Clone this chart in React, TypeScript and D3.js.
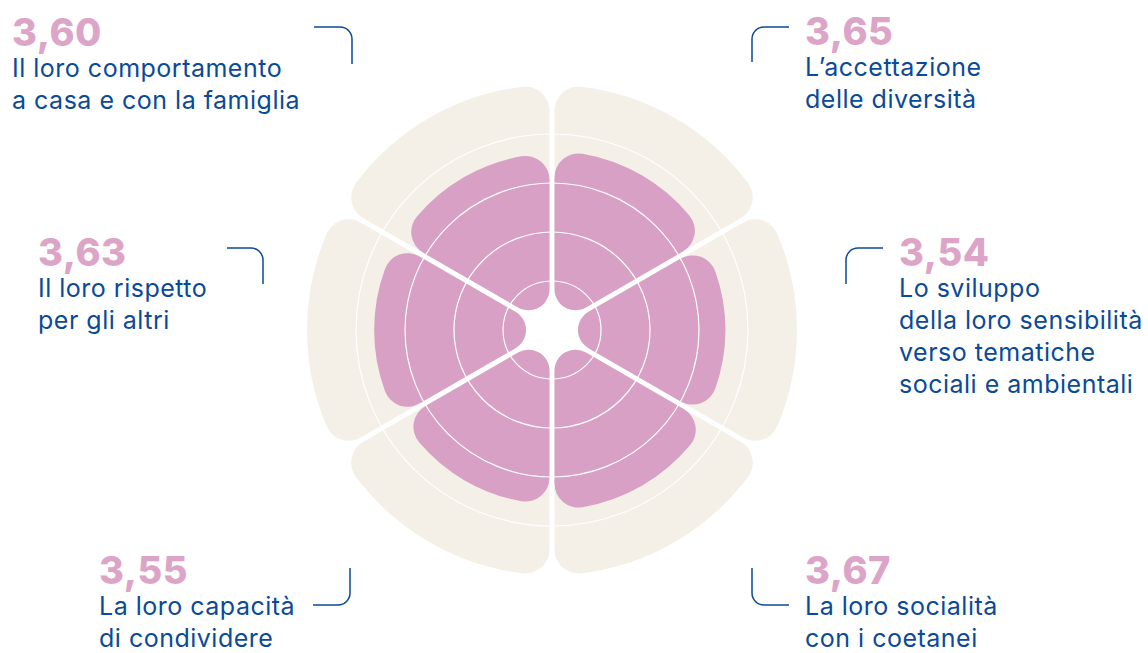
import React, { useEffect, useRef } from 'react';
import * as d3 from 'd3';

// sectors clockwise from 12 o'clock
const values = [3.65, 3.54, 3.67, 3.55, 3.63, 3.6];
const valueLabels = ['3,65', '3,54', '3,67', '3,55', '3,63', '3,60'];
const categories = [
  ["L\u2019accettazione", 'delle diversità'],
  ['Lo sviluppo', 'della loro sensibilità', 'verso tematiche', 'sociali e ambientali'],
  ['La loro socialità', 'con i coetanei'],
  ['La loro capacità', 'di condividere'],
  ['Il loro rispetto', 'per gli altri'],
  ['Il loro comportamento', 'a casa e con la famiglia'],
];
const gridTicks = [1, 2, 3, 4];
const maxValue = 5;

// label placement (x of text, baseline of the number, connector path)
const labelLayout = [
  { x: 805, y: 45, path: 'M752,62 V39 A12,12 0 0 1 764,27 H789' },
  { x: 899, y: 266, path: 'M846,284 V260 A12,12 0 0 1 858,248 H883' },
  { x: 805, y: 584, path: 'M752,568 V593 A12,12 0 0 0 764,605 H789' },
  { x: 99, y: 584, path: 'M350,568 V593 A12,12 0 0 1 338,605 H313' },
  { x: 38, y: 266, path: 'M227,248 H251 A12,12 0 0 1 263,260 V284' },
  { x: 12, y: 46, path: 'M314,27 H340 A12,12 0 0 1 352,39 V64' },
];

const PINK = '#d8a0c4';
const BEIGE = '#f4f0e8';
const BLUE = '#0b4a97';
const NUM_PINK = '#dca5c7';

const App = () => {
  const svgRef = useRef(null);

  useEffect(() => {
    const width = 1148;
    const height = 653;
    const cx = 552;
    const cy = 330;

    const svg = d3.select(svgRef.current);
    svg.selectAll('*').remove();
    svg.attr('width', width).attr('height', height);

    const r = d3.scaleLinear().domain([0, maxValue]).range([0, 245]);
    const step = (2 * Math.PI) / values.length;

    const arc = d3.arc()
      .innerRadius(26)
      .cornerRadius(24)
      .padAngle(0.05)
      .padRadius(100);

    const g = svg.append('g').attr('transform', `translate(${cx},${cy})`);

    // background sectors
    g.selectAll('.bg')
      .data(values)
      .enter()
      .append('path')
      .attr('class', 'bg')
      .attr('fill', BEIGE)
      .attr('d', (d, i) => arc({ startAngle: i * step, endAngle: (i + 1) * step, outerRadius: r(maxValue) }));

    // value bars
    g.selectAll('.bar')
      .data(values)
      .enter()
      .append('path')
      .attr('class', 'bar')
      .attr('fill', PINK)
      .attr('d', (d, i) => arc({ startAngle: i * step, endAngle: (i + 1) * step, outerRadius: r(d) }));

    // grid circles
    g.selectAll('.grid')
      .data(gridTicks)
      .enter()
      .append('circle')
      .attr('r', d => r(d))
      .attr('fill', 'none')
      .attr('stroke', '#fff')
      .attr('stroke-width', 1.2);

    // labels
    labelLayout.forEach((l, i) => {
      svg.append('path')
        .attr('d', l.path)
        .attr('fill', 'none')
        .attr('stroke', BLUE)
        .attr('stroke-width', 1.5);

      svg.append('text')
        .attr('x', l.x)
        .attr('y', l.y)
        .attr('fill', NUM_PINK)
        .style('font-family', 'Inter, sans-serif')
        .style('font-weight', 800)
        .style('font-size', '38px')
        .style('letter-spacing', '0.5px')
        .text(valueLabels[i]);

      categories[i].forEach((line, j) => {
        svg.append('text')
          .attr('x', l.x)
          .attr('y', l.y + 31 + j * 32)
          .attr('fill', BLUE)
          .style('font-family', 'Inter, sans-serif')
          .style('font-size', '25px')
          .style('letter-spacing', '0.5px')
          .text(line);
      });
    });
  }, []);

  return (
    <svg ref={svgRef} style={{ position: 'absolute', left: 0, top: 0 }}></svg>
  );
};

export default App;
